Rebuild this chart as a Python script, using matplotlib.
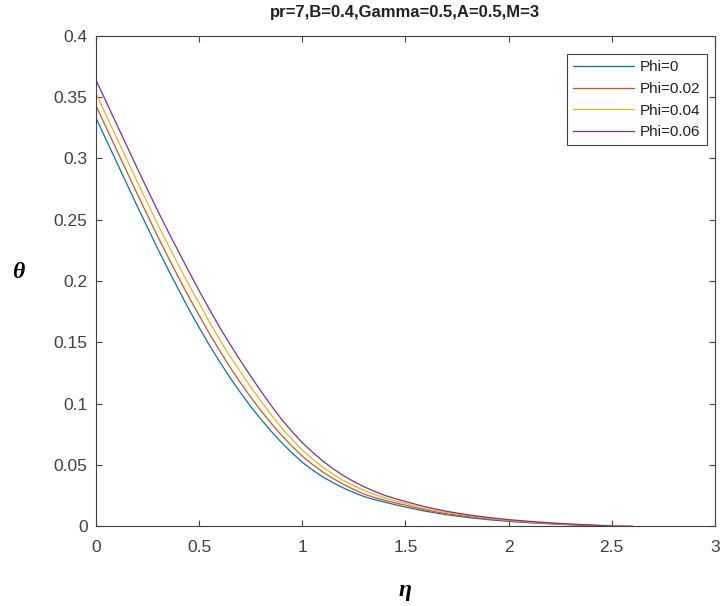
import matplotlib
matplotlib.use("Agg")
import matplotlib.pyplot as plt

# eta grid (every 0.05 up to 1.5, then every 0.1)
eta = [0.0, 0.05, 0.1, 0.15, 0.2, 0.25, 0.3, 0.35, 0.4, 0.45, 0.5, 0.55,
       0.6, 0.65, 0.7, 0.75, 0.8, 0.85, 0.9, 0.95, 1.0, 1.05, 1.1, 1.15,
       1.2, 1.25, 1.3, 1.35, 1.4, 1.45, 1.5, 1.6, 1.7, 1.8, 1.9, 2.0, 2.1,
       2.2, 2.3, 2.4, 2.5]
eta_long = eta + [2.6]

theta_phi0 = [0.333, 0.315, 0.297, 0.279, 0.261, 0.2435, 0.226, 0.2093, 0.193,
              0.177, 0.162, 0.1475, 0.134, 0.121, 0.109, 0.0975, 0.087, 0.0772,
              0.068, 0.0597, 0.052, 0.0457, 0.040, 0.0353, 0.031, 0.0273,
              0.024, 0.0216, 0.0195, 0.0174, 0.0155, 0.012, 0.0092, 0.007,
              0.0052, 0.0038, 0.0027, 0.0018, 0.001, 0.0004, 0.0]
theta_phi002 = [0.343, 0.325, 0.307, 0.289, 0.271, 0.2535, 0.236, 0.2193, 0.203,
                0.187, 0.172, 0.157, 0.143, 0.1295, 0.117, 0.1052, 0.094, 0.0837,
                0.074, 0.0652, 0.057, 0.0502, 0.044, 0.0387, 0.034, 0.0298,
                0.026, 0.0233, 0.021, 0.0189, 0.017, 0.013, 0.010, 0.0078,
                0.0058, 0.0042, 0.003, 0.002, 0.0012, 0.0006, 0.0002, 0.0]
theta_phi004 = [0.353, 0.335, 0.317, 0.299, 0.281, 0.2635, 0.246, 0.2293, 0.213,
                0.197, 0.182, 0.1665, 0.152, 0.1385, 0.126, 0.1135, 0.102, 0.0907,
                0.080, 0.0707, 0.062, 0.0547, 0.048, 0.0422, 0.037, 0.0328,
                0.029, 0.0258, 0.023, 0.0206, 0.0185, 0.014, 0.011, 0.0085,
                0.0064, 0.0047, 0.0034, 0.0023, 0.0014, 0.0007, 0.0]
theta_phi006 = [0.364, 0.346, 0.328, 0.310, 0.292, 0.2745, 0.257, 0.2403, 0.224,
                0.2078, 0.192, 0.1768, 0.162, 0.1483, 0.135, 0.1223, 0.110, 0.0982,
                0.087, 0.0772, 0.068, 0.0602, 0.053, 0.0467, 0.041, 0.0363,
                0.032, 0.0283, 0.025, 0.0224, 0.020, 0.0155, 0.012, 0.0092,
                0.007, 0.0052, 0.0038, 0.0026, 0.0016, 0.0008, 0.0]

labels = ['Phi=0', 'Phi=0.02', 'Phi=0.04', 'Phi=0.06']
colors = ['#0072BD', '#D95319', '#EDB120', '#7E2F8E']

xticks = [0, 0.5, 1, 1.5, 2, 2.5, 3]
yticks = [0, 0.05, 0.1, 0.15, 0.2, 0.25, 0.3, 0.35, 0.4]

plt.rcParams['font.family'] = ['Liberation Sans', 'DejaVu Sans']

fig = plt.figure(figsize=(7.22, 6.06), dpi=100)
ax = fig.add_axes([0.133, 0.132, 0.857, 0.8086])

series = [(eta, theta_phi0), (eta_long, theta_phi002),
          (eta, theta_phi004), (eta, theta_phi006)]
for (x, y), c, lab in zip(series, colors, labels):
    ax.plot(x, y, color=c, lw=0.9, label=lab)

ax.set_xlim(0, 3)
ax.set_ylim(0, 0.4)
ax.set_xticks(xticks)
ax.set_xticklabels(['0', '0.5', '1', '1.5', '2', '2.5', '3'])
ax.set_yticks(yticks)
ax.set_yticklabels(['0', '0.05', '0.1', '0.15', '0.2', '0.25', '0.3', '0.35', '0.4'])
ax.tick_params(direction='in', top=True, right=True, length=4, width=0.8,
               labelsize=12.5, labelcolor='#404040', color='#404040', pad=6)
ax.tick_params(axis='x', pad=10)
for s in ax.spines.values():
    s.set_color('#404040')
    s.set_linewidth(0.8)

ax.set_title('pr=7,B=0.4,Gamma=0.5,A=0.5,M=3', fontsize=12, fontweight='bold',
             color='#202020', pad=14)

fig.text(0.025, 0.55, 'θ', family='Liberation Serif', fontsize=17,
         fontweight='bold', style='italic', ha='center', va='center')
fig.text(0.561, 0.026, 'η', family='Liberation Serif', fontsize=17,
         fontweight='bold', style='italic', ha='center', va='center')

leg = ax.legend(loc='upper right', bbox_to_anchor=(0.987, 0.963), fontsize=11,
                handlelength=4.0, handletextpad=0.4, labelspacing=0.5,
                borderpad=0.4, borderaxespad=0, fancybox=False, framealpha=1)
leg.get_frame().set_edgecolor('#404040')
leg.get_frame().set_linewidth(0.8)
for t in leg.get_texts():
    t.set_color('#202020')

fig.savefig('out.png', dpi=100)
